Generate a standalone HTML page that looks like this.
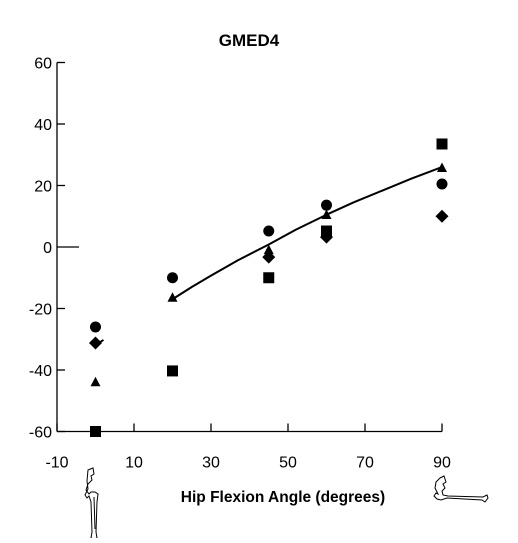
<!DOCTYPE html>
<html><head><meta charset="utf-8"><style>
body{margin:0;background:#fff;}
svg text{font-family:"Liberation Sans",sans-serif;}
</style></head><body>
<svg id="c" width="518" height="538" viewBox="0 0 518 538">
<text x="249" y="46" font-size="17" font-weight="bold" text-anchor="middle">GMED4</text>
<g id="axes"></g>
<g id="marks"></g>
<text x="283" y="502" font-size="15.5" font-weight="bold" text-anchor="middle">Hip Flexion Angle (degrees)</text>
<g fill="none" stroke="#000" stroke-width="1">
<path d="M88 470 l5 -2 1 6 -3 2 1 4 -4 4 -2 6 3 4 2 -2 4 0 3 2 -1 8 -1 30 1 6 -3 1 -3 -1 1 -6 -1 -30 -2 -6 -2 2 -2 -3 3 -6 -1 -8 z"/>
<path d="M94 497 l1 32"/>
</g>
<g fill="none" stroke="#000" stroke-width="1">
<path d="M440 478 l4 -2 2 6 -3 2 2 4 -3 3 1 4 5 1 35 1 4 -2 1 3 -3 4 -3 -2 -35 -2 -6 2 -4 -1 -3 -3 2 -3 2 1 -3 -6 1 -6 z"/>
</g>
</svg>
<script>
const yTicks=[60,40,20,0,-20,-40,-60];
const xTicks=[-10,10,30,50,70,90];
const xCats=[0,20,45,60,90];
const circleVals=[-26,-10,5.2,13.6,20.5];
const diamondVals=[-31.2,null,-3.3,3.2,10];
const triangleVals=[-44,-16.5,-1,10.4,25.7];
const squareVals=[-60,-40.3,-10,5.2,33.5];
const fitX=[20,25,30,37,45,52,60,67,75,82,90];
const fitY=[-17,-13,-9.3,-4.3,0.8,5.6,10.5,14.5,18.6,22.2,26];
const X=v=>95.5+(v)*3.85;
const Y=v=>247-v*3.075;
const NS='http://www.w3.org/2000/svg';
function mk(t,a,p){const e=document.createElementNS(NS,t);for(const k in a)e.setAttribute(k,a[k]);p.appendChild(e);return e;}
const ax=document.getElementById('axes'),mg=document.getElementById('marks');
let e=mk('line',{x1:X(-10),y1:Y(60),x2:X(-10),y2:Y(-60),stroke:'#000','stroke-width':1.3},ax);

e=mk('line',{x1:X(-10),y1:Y(-60),x2:X(90),y2:Y(-60),stroke:'#000','stroke-width':1.3},ax);

yTicks.forEach(v=>{
 const len=v===0?22:8;
 let t=mk('line',{x1:X(-10),y1:Y(v),x2:X(-10)+len,y2:Y(v),stroke:'#000','stroke-width':1.3},ax);
 
 let l=mk('text',{x:X(-10)-5,y:Y(v)+6,'font-size':16,'text-anchor':'end'},ax);l.textContent=v;
 
});
xTicks.forEach(v=>{
 let t=mk('line',{x1:X(v),y1:Y(-60),x2:X(v),y2:Y(-60)-8,stroke:'#000','stroke-width':1.3},ax);
 
 let l=mk('text',{x:X(v),y:Y(-60)+36,'font-size':16,'text-anchor':'middle'},ax);l.textContent=v;
 
});
let d='M'+fitX.map((x,i)=>X(x)+' '+Y(fitY[i])).join(' L');
let p=mk('path',{d:d,fill:'none',stroke:'#000','stroke-width':2,'stroke-linejoin':'round'},mg);

p=mk('path',{d:'M'+X(0)+' '+(Y(diamondVals[0])+2)+' L'+(X(0)+8)+' '+(Y(diamondVals[0])-3),fill:'none',stroke:'#000','stroke-width':2},mg);

xCats.forEach((x,i)=>{
 const cx=X(x);
 if(circleVals[i]!=null){let m=mk('circle',{cx:cx,cy:Y(circleVals[i]),r:5.5,fill:'#000'},mg);
  }
 if(diamondVals[i]!=null){const cy=Y(diamondVals[i]);let m=mk('path',{d:`M${cx} ${cy-6.5}L${cx+6.5} ${cy}L${cx} ${cy+6.5}L${cx-6.5} ${cy}Z`,fill:'#000'},mg);
  }
 if(triangleVals[i]!=null){const cy=Y(triangleVals[i]);let m=mk('path',{d:`M${cx} ${cy-5.5}L${cx+5} ${cy+4}L${cx-5} ${cy+4}Z`,fill:'#000'},mg);
  }
 if(squareVals[i]!=null){const cy=Y(squareVals[i]);let m=mk('rect',{x:cx-5.5,y:cy-5.5,width:11,height:11,fill:'#000'},mg);
  }
});
</script>
</body></html>
